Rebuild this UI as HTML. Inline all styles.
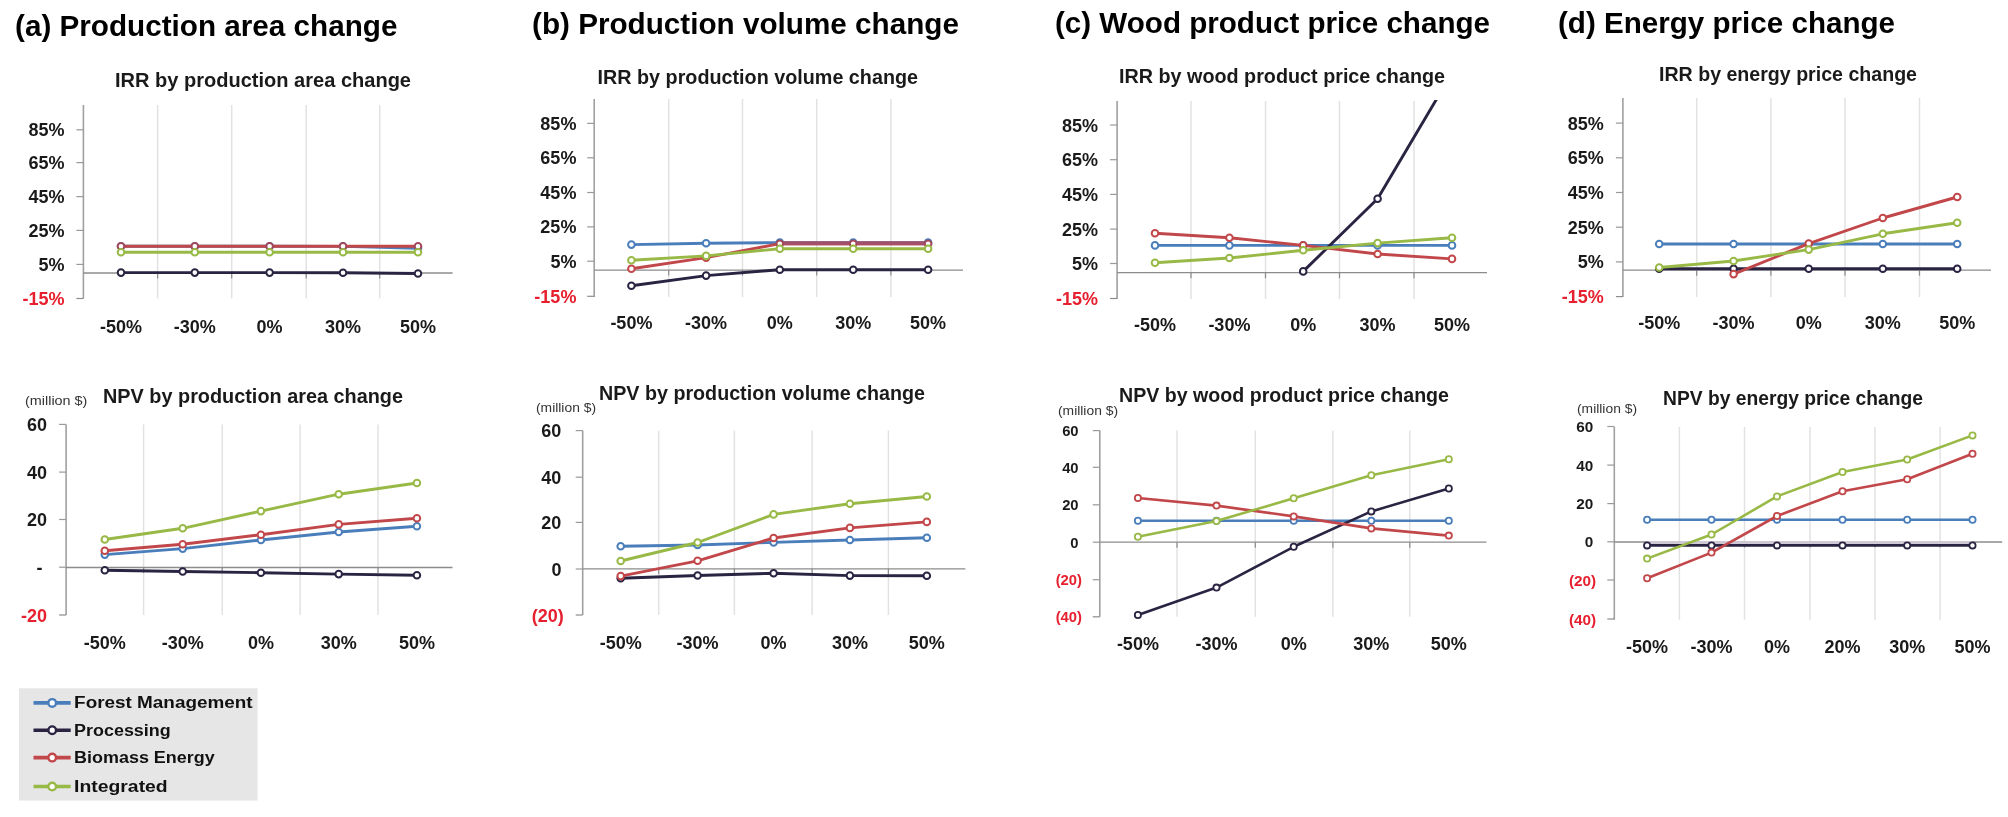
<!DOCTYPE html>
<html lang="en"><head><meta charset="utf-8"><title>Sensitivity analysis: IRR and NPV</title>
<style>html,body{margin:0;padding:0;background:#fff}body{width:2008px;height:817px;overflow:hidden}svg{display:block;filter:blur(0.45px)}</style></head>
<body>
<svg width="2008" height="817" viewBox="0 0 2008 817" font-family='"Liberation Sans", sans-serif'>
<defs><clipPath id="clipc"><rect x="1100" y="100" width="400" height="200"/></clipPath></defs>
<rect width="2008" height="817" fill="#fff"/>
<text x="15" y="36" font-size="29.2" font-weight="bold" fill="#000" textLength="382.5" lengthAdjust="spacingAndGlyphs">(a) Production area change</text>
<text x="532" y="34" font-size="29.2" font-weight="bold" fill="#000" textLength="427" lengthAdjust="spacingAndGlyphs">(b) Production volume change</text>
<text x="1055" y="33" font-size="29.2" font-weight="bold" fill="#000" textLength="435" lengthAdjust="spacingAndGlyphs">(c) Wood product price change</text>
<text x="1558" y="33" font-size="29.2" font-weight="bold" fill="#000" textLength="337" lengthAdjust="spacingAndGlyphs">(d) Energy price change</text>
<line x1="157.6" y1="105" x2="157.6" y2="298.5" stroke="#e2e2e2" stroke-width="1.5"/>
<line x1="157.6" y1="273" x2="157.6" y2="278.5" stroke="#8c8c8c" stroke-width="1.2"/>
<line x1="231.7" y1="105" x2="231.7" y2="298.5" stroke="#e2e2e2" stroke-width="1.5"/>
<line x1="231.7" y1="273" x2="231.7" y2="278.5" stroke="#8c8c8c" stroke-width="1.2"/>
<line x1="306.2" y1="105" x2="306.2" y2="298.5" stroke="#e2e2e2" stroke-width="1.5"/>
<line x1="306.2" y1="273" x2="306.2" y2="278.5" stroke="#8c8c8c" stroke-width="1.2"/>
<line x1="379.7" y1="105" x2="379.7" y2="298.5" stroke="#e2e2e2" stroke-width="1.5"/>
<line x1="379.7" y1="273" x2="379.7" y2="278.5" stroke="#8c8c8c" stroke-width="1.2"/>
<line x1="83.4" y1="105" x2="83.4" y2="298.5" stroke="#a0a0a0" stroke-width="1.6"/>
<line x1="76.4" y1="129.8" x2="83.4" y2="129.8" stroke="#999" stroke-width="1.2"/>
<text x="64.6" y="136.3" font-size="18" font-weight="bold" text-anchor="end" fill="#1a1a1a">85%</text>
<line x1="76.4" y1="162.6" x2="83.4" y2="162.6" stroke="#999" stroke-width="1.2"/>
<text x="64.6" y="169.1" font-size="18" font-weight="bold" text-anchor="end" fill="#1a1a1a">65%</text>
<line x1="76.4" y1="196.6" x2="83.4" y2="196.6" stroke="#999" stroke-width="1.2"/>
<text x="64.6" y="203.1" font-size="18" font-weight="bold" text-anchor="end" fill="#1a1a1a">45%</text>
<line x1="76.4" y1="230.4" x2="83.4" y2="230.4" stroke="#999" stroke-width="1.2"/>
<text x="64.6" y="236.9" font-size="18" font-weight="bold" text-anchor="end" fill="#1a1a1a">25%</text>
<line x1="76.4" y1="264.4" x2="83.4" y2="264.4" stroke="#999" stroke-width="1.2"/>
<text x="64.6" y="270.9" font-size="18" font-weight="bold" text-anchor="end" fill="#1a1a1a">5%</text>
<line x1="76.4" y1="298.5" x2="83.4" y2="298.5" stroke="#8c8c8c" stroke-width="1.2"/>
<text x="64.6" y="305" font-size="18" font-weight="bold" text-anchor="end" fill="#e6202e">-15%</text>
<line x1="83.4" y1="273" x2="452.6" y2="273" stroke="#8c8c8c" stroke-width="1.3"/>
<g><polyline points="121,246.2 194.8,246.2 269.6,246.2 343,246.4 418,248.2" fill="none" stroke="#4a7ebb" stroke-width="2.9" stroke-linejoin="round" stroke-linecap="round"/>
<circle cx="121" cy="246.2" r="3.3" fill="#fff" stroke="#4a7ebb" stroke-width="2"/>
<circle cx="194.8" cy="246.2" r="3.3" fill="#fff" stroke="#4a7ebb" stroke-width="2"/>
<circle cx="269.6" cy="246.2" r="3.3" fill="#fff" stroke="#4a7ebb" stroke-width="2"/>
<circle cx="343" cy="246.4" r="3.3" fill="#fff" stroke="#4a7ebb" stroke-width="2"/>
<circle cx="418" cy="248.2" r="3.3" fill="#fff" stroke="#4a7ebb" stroke-width="2"/>
</g>
<g><polyline points="121,272.6 194.8,272.6 269.6,272.6 343,272.7 418,273.5" fill="none" stroke="#2a2342" stroke-width="2.9" stroke-linejoin="round" stroke-linecap="round"/>
<circle cx="121" cy="272.6" r="3.3" fill="#fff" stroke="#2a2342" stroke-width="2"/>
<circle cx="194.8" cy="272.6" r="3.3" fill="#fff" stroke="#2a2342" stroke-width="2"/>
<circle cx="269.6" cy="272.6" r="3.3" fill="#fff" stroke="#2a2342" stroke-width="2"/>
<circle cx="343" cy="272.7" r="3.3" fill="#fff" stroke="#2a2342" stroke-width="2"/>
<circle cx="418" cy="273.5" r="3.3" fill="#fff" stroke="#2a2342" stroke-width="2"/>
</g>
<g><polyline points="121,246.3 194.8,246.3 269.6,246.3 343,246.3 418,246.3" fill="none" stroke="#c2474a" stroke-width="2.9" stroke-linejoin="round" stroke-linecap="round"/>
<circle cx="121" cy="246.3" r="3.3" fill="#fff" stroke="#a2485c" stroke-width="2"/>
<circle cx="194.8" cy="246.3" r="3.3" fill="#fff" stroke="#a2485c" stroke-width="2"/>
<circle cx="269.6" cy="246.3" r="3.3" fill="#fff" stroke="#a2485c" stroke-width="2"/>
<circle cx="343" cy="246.3" r="3.3" fill="#fff" stroke="#a2485c" stroke-width="2"/>
<circle cx="418" cy="246.3" r="3.3" fill="#fff" stroke="#a2485c" stroke-width="2"/>
</g>
<g><polyline points="121,252.2 194.8,252.2 269.6,252.2 343,252.2 418,252.2" fill="none" stroke="#98b946" stroke-width="2.9" stroke-linejoin="round" stroke-linecap="round"/>
<circle cx="121" cy="252.2" r="3.3" fill="#fff" stroke="#98b946" stroke-width="2"/>
<circle cx="194.8" cy="252.2" r="3.3" fill="#fff" stroke="#98b946" stroke-width="2"/>
<circle cx="269.6" cy="252.2" r="3.3" fill="#fff" stroke="#98b946" stroke-width="2"/>
<circle cx="343" cy="252.2" r="3.3" fill="#fff" stroke="#98b946" stroke-width="2"/>
<circle cx="418" cy="252.2" r="3.3" fill="#fff" stroke="#98b946" stroke-width="2"/>
</g>
<text x="121" y="332.5" font-size="18" font-weight="bold" text-anchor="middle" fill="#1a1a1a">-50%</text>
<text x="194.8" y="332.5" font-size="18" font-weight="bold" text-anchor="middle" fill="#1a1a1a">-30%</text>
<text x="269.6" y="332.5" font-size="18" font-weight="bold" text-anchor="middle" fill="#1a1a1a">0%</text>
<text x="343" y="332.5" font-size="18" font-weight="bold" text-anchor="middle" fill="#1a1a1a">30%</text>
<text x="418" y="332.5" font-size="18" font-weight="bold" text-anchor="middle" fill="#1a1a1a">50%</text>
<text x="263" y="87" font-size="19.5" font-weight="bold" text-anchor="middle" fill="#1a1a1a" textLength="296" lengthAdjust="spacingAndGlyphs">IRR by production area change</text>
<line x1="668.7" y1="99" x2="668.7" y2="297" stroke="#e2e2e2" stroke-width="1.5"/>
<line x1="668.7" y1="270.1" x2="668.7" y2="275.6" stroke="#8c8c8c" stroke-width="1.2"/>
<line x1="742.5" y1="99" x2="742.5" y2="297" stroke="#e2e2e2" stroke-width="1.5"/>
<line x1="742.5" y1="270.1" x2="742.5" y2="275.6" stroke="#8c8c8c" stroke-width="1.2"/>
<line x1="816.7" y1="99" x2="816.7" y2="297" stroke="#e2e2e2" stroke-width="1.5"/>
<line x1="816.7" y1="270.1" x2="816.7" y2="275.6" stroke="#8c8c8c" stroke-width="1.2"/>
<line x1="890.9" y1="99" x2="890.9" y2="297" stroke="#e2e2e2" stroke-width="1.5"/>
<line x1="890.9" y1="270.1" x2="890.9" y2="275.6" stroke="#8c8c8c" stroke-width="1.2"/>
<line x1="594.2" y1="99" x2="594.2" y2="297" stroke="#a0a0a0" stroke-width="1.6"/>
<line x1="587.2" y1="123.4" x2="594.2" y2="123.4" stroke="#999" stroke-width="1.2"/>
<text x="576.4" y="129.9" font-size="18" font-weight="bold" text-anchor="end" fill="#1a1a1a">85%</text>
<line x1="587.2" y1="157.8" x2="594.2" y2="157.8" stroke="#999" stroke-width="1.2"/>
<text x="576.4" y="164.3" font-size="18" font-weight="bold" text-anchor="end" fill="#1a1a1a">65%</text>
<line x1="587.2" y1="192.5" x2="594.2" y2="192.5" stroke="#999" stroke-width="1.2"/>
<text x="576.4" y="199" font-size="18" font-weight="bold" text-anchor="end" fill="#1a1a1a">45%</text>
<line x1="587.2" y1="226.9" x2="594.2" y2="226.9" stroke="#999" stroke-width="1.2"/>
<text x="576.4" y="233.4" font-size="18" font-weight="bold" text-anchor="end" fill="#1a1a1a">25%</text>
<line x1="587.2" y1="261.2" x2="594.2" y2="261.2" stroke="#999" stroke-width="1.2"/>
<text x="576.4" y="267.7" font-size="18" font-weight="bold" text-anchor="end" fill="#1a1a1a">5%</text>
<line x1="587.2" y1="296.3" x2="594.2" y2="296.3" stroke="#8c8c8c" stroke-width="1.2"/>
<text x="576.4" y="302.8" font-size="18" font-weight="bold" text-anchor="end" fill="#e6202e">-15%</text>
<line x1="594.2" y1="270.1" x2="963" y2="270.1" stroke="#8c8c8c" stroke-width="1.3"/>
<g><polyline points="631.4,244.6 706.1,243.3 779.8,242.6 853.2,242.6 928.1,242.6" fill="none" stroke="#4a7ebb" stroke-width="2.9" stroke-linejoin="round" stroke-linecap="round"/>
<circle cx="631.4" cy="244.6" r="3.3" fill="#fff" stroke="#4a7ebb" stroke-width="2"/>
<circle cx="706.1" cy="243.3" r="3.3" fill="#fff" stroke="#4a7ebb" stroke-width="2"/>
<circle cx="779.8" cy="242.6" r="3.3" fill="#fff" stroke="#4a7ebb" stroke-width="2"/>
<circle cx="853.2" cy="242.6" r="3.3" fill="#fff" stroke="#4a7ebb" stroke-width="2"/>
<circle cx="928.1" cy="242.6" r="3.3" fill="#fff" stroke="#4a7ebb" stroke-width="2"/>
</g>
<g><polyline points="631.4,285.8 706.1,275.6 779.8,269.7 853.2,269.7 928.1,269.7" fill="none" stroke="#2a2342" stroke-width="2.9" stroke-linejoin="round" stroke-linecap="round"/>
<circle cx="631.4" cy="285.8" r="3.3" fill="#fff" stroke="#2a2342" stroke-width="2"/>
<circle cx="706.1" cy="275.6" r="3.3" fill="#fff" stroke="#2a2342" stroke-width="2"/>
<circle cx="779.8" cy="269.7" r="3.3" fill="#fff" stroke="#2a2342" stroke-width="2"/>
<circle cx="853.2" cy="269.7" r="3.3" fill="#fff" stroke="#2a2342" stroke-width="2"/>
<circle cx="928.1" cy="269.7" r="3.3" fill="#fff" stroke="#2a2342" stroke-width="2"/>
</g>
<g><polyline points="631.4,268.8 706.1,257.6 779.8,243.7 853.2,243.7 928.1,243.7" fill="none" stroke="#c2474a" stroke-width="2.9" stroke-linejoin="round" stroke-linecap="round"/>
<line x1="781" y1="243.2" x2="928.1" y2="243.2" stroke="#a5506a" stroke-width="4"/>
<circle cx="631.4" cy="268.8" r="3.3" fill="#fff" stroke="#c2474a" stroke-width="2"/>
<circle cx="706.1" cy="257.6" r="3.3" fill="#fff" stroke="#c2474a" stroke-width="2"/>
<circle cx="779.8" cy="243.7" r="3.3" fill="#fff" stroke="#a2485c" stroke-width="2"/>
<circle cx="853.2" cy="243.7" r="3.3" fill="#fff" stroke="#a2485c" stroke-width="2"/>
<circle cx="928.1" cy="243.7" r="3.3" fill="#fff" stroke="#a2485c" stroke-width="2"/>
</g>
<g><polyline points="631.4,260.3 706.1,255.9 779.8,248.7 853.2,248.7 928.1,248.7" fill="none" stroke="#98b946" stroke-width="2.9" stroke-linejoin="round" stroke-linecap="round"/>
<circle cx="631.4" cy="260.3" r="3.3" fill="#fff" stroke="#98b946" stroke-width="2"/>
<circle cx="706.1" cy="255.9" r="3.3" fill="#fff" stroke="#98b946" stroke-width="2"/>
<circle cx="779.8" cy="248.7" r="3.3" fill="#fff" stroke="#98b946" stroke-width="2"/>
<circle cx="853.2" cy="248.7" r="3.3" fill="#fff" stroke="#98b946" stroke-width="2"/>
<circle cx="928.1" cy="248.7" r="3.3" fill="#fff" stroke="#98b946" stroke-width="2"/>
</g>
<text x="631.4" y="329.4" font-size="18" font-weight="bold" text-anchor="middle" fill="#1a1a1a">-50%</text>
<text x="706.1" y="329.4" font-size="18" font-weight="bold" text-anchor="middle" fill="#1a1a1a">-30%</text>
<text x="779.8" y="329.4" font-size="18" font-weight="bold" text-anchor="middle" fill="#1a1a1a">0%</text>
<text x="853.2" y="329.4" font-size="18" font-weight="bold" text-anchor="middle" fill="#1a1a1a">30%</text>
<text x="928.1" y="329.4" font-size="18" font-weight="bold" text-anchor="middle" fill="#1a1a1a">50%</text>
<text x="757.8" y="84" font-size="19.5" font-weight="bold" text-anchor="middle" fill="#1a1a1a" textLength="320.5" lengthAdjust="spacingAndGlyphs">IRR by production volume change</text>
<line x1="1191" y1="101" x2="1191" y2="299" stroke="#e2e2e2" stroke-width="1.5"/>
<line x1="1191" y1="272.7" x2="1191" y2="278.2" stroke="#8c8c8c" stroke-width="1.2"/>
<line x1="1265.5" y1="101" x2="1265.5" y2="299" stroke="#e2e2e2" stroke-width="1.5"/>
<line x1="1265.5" y1="272.7" x2="1265.5" y2="278.2" stroke="#8c8c8c" stroke-width="1.2"/>
<line x1="1339.5" y1="101" x2="1339.5" y2="299" stroke="#e2e2e2" stroke-width="1.5"/>
<line x1="1339.5" y1="272.7" x2="1339.5" y2="278.2" stroke="#8c8c8c" stroke-width="1.2"/>
<line x1="1414" y1="101" x2="1414" y2="299" stroke="#e2e2e2" stroke-width="1.5"/>
<line x1="1414" y1="272.7" x2="1414" y2="278.2" stroke="#8c8c8c" stroke-width="1.2"/>
<line x1="1117.1" y1="101" x2="1117.1" y2="299" stroke="#a0a0a0" stroke-width="1.6"/>
<line x1="1110.1" y1="125" x2="1117.1" y2="125" stroke="#999" stroke-width="1.2"/>
<text x="1098" y="131.5" font-size="18" font-weight="bold" text-anchor="end" fill="#1a1a1a">85%</text>
<line x1="1110.1" y1="159.7" x2="1117.1" y2="159.7" stroke="#999" stroke-width="1.2"/>
<text x="1098" y="166.2" font-size="18" font-weight="bold" text-anchor="end" fill="#1a1a1a">65%</text>
<line x1="1110.1" y1="194.4" x2="1117.1" y2="194.4" stroke="#999" stroke-width="1.2"/>
<text x="1098" y="200.9" font-size="18" font-weight="bold" text-anchor="end" fill="#1a1a1a">45%</text>
<line x1="1110.1" y1="229.1" x2="1117.1" y2="229.1" stroke="#999" stroke-width="1.2"/>
<text x="1098" y="235.6" font-size="18" font-weight="bold" text-anchor="end" fill="#1a1a1a">25%</text>
<line x1="1110.1" y1="263.5" x2="1117.1" y2="263.5" stroke="#999" stroke-width="1.2"/>
<text x="1098" y="270" font-size="18" font-weight="bold" text-anchor="end" fill="#1a1a1a">5%</text>
<line x1="1110.1" y1="298.5" x2="1117.1" y2="298.5" stroke="#8c8c8c" stroke-width="1.2"/>
<text x="1098" y="305" font-size="18" font-weight="bold" text-anchor="end" fill="#e6202e">-15%</text>
<line x1="1117.1" y1="272.7" x2="1487" y2="272.7" stroke="#8c8c8c" stroke-width="1.3"/>
<g clip-path="url(#clipc)"><polyline points="1155,245.4 1229.4,245.4 1303.2,245.4 1377.6,245.4 1452,245.4" fill="none" stroke="#4a7ebb" stroke-width="2.9" stroke-linejoin="round" stroke-linecap="round"/>
<circle cx="1155" cy="245.4" r="3.3" fill="#fff" stroke="#4a7ebb" stroke-width="2"/>
<circle cx="1229.4" cy="245.4" r="3.3" fill="#fff" stroke="#4a7ebb" stroke-width="2"/>
<circle cx="1303.2" cy="245.4" r="3.3" fill="#fff" stroke="#4a7ebb" stroke-width="2"/>
<circle cx="1377.6" cy="245.4" r="3.3" fill="#fff" stroke="#4a7ebb" stroke-width="2"/>
<circle cx="1452" cy="245.4" r="3.3" fill="#fff" stroke="#4a7ebb" stroke-width="2"/>
</g>
<g clip-path="url(#clipc)"><polyline points="1303.2,271.4 1377.6,198.8 1452,73" fill="none" stroke="#2a2342" stroke-width="2.9" stroke-linejoin="round" stroke-linecap="round"/>
<circle cx="1303.2" cy="271.4" r="3.3" fill="#fff" stroke="#2a2342" stroke-width="2"/>
<circle cx="1377.6" cy="198.8" r="3.3" fill="#fff" stroke="#2a2342" stroke-width="2"/>
</g>
<g clip-path="url(#clipc)"><polyline points="1155,233.2 1229.4,237.7 1303.2,245.4 1377.6,254 1452,258.9" fill="none" stroke="#c2474a" stroke-width="2.9" stroke-linejoin="round" stroke-linecap="round"/>
<circle cx="1155" cy="233.2" r="3.3" fill="#fff" stroke="#c2474a" stroke-width="2"/>
<circle cx="1229.4" cy="237.7" r="3.3" fill="#fff" stroke="#c2474a" stroke-width="2"/>
<circle cx="1303.2" cy="245.4" r="3.3" fill="#fff" stroke="#c2474a" stroke-width="2"/>
<circle cx="1377.6" cy="254" r="3.3" fill="#fff" stroke="#c2474a" stroke-width="2"/>
<circle cx="1452" cy="258.9" r="3.3" fill="#fff" stroke="#c2474a" stroke-width="2"/>
</g>
<g clip-path="url(#clipc)"><polyline points="1155,262.8 1229.4,258 1303.2,250.3 1377.6,243.1 1452,237.7" fill="none" stroke="#98b946" stroke-width="2.9" stroke-linejoin="round" stroke-linecap="round"/>
<circle cx="1155" cy="262.8" r="3.3" fill="#fff" stroke="#98b946" stroke-width="2"/>
<circle cx="1229.4" cy="258" r="3.3" fill="#fff" stroke="#98b946" stroke-width="2"/>
<circle cx="1303.2" cy="250.3" r="3.3" fill="#fff" stroke="#98b946" stroke-width="2"/>
<circle cx="1377.6" cy="243.1" r="3.3" fill="#fff" stroke="#98b946" stroke-width="2"/>
<circle cx="1452" cy="237.7" r="3.3" fill="#fff" stroke="#98b946" stroke-width="2"/>
</g>
<text x="1155" y="331.3" font-size="18" font-weight="bold" text-anchor="middle" fill="#1a1a1a">-50%</text>
<text x="1229.4" y="331.3" font-size="18" font-weight="bold" text-anchor="middle" fill="#1a1a1a">-30%</text>
<text x="1303.2" y="331.3" font-size="18" font-weight="bold" text-anchor="middle" fill="#1a1a1a">0%</text>
<text x="1377.6" y="331.3" font-size="18" font-weight="bold" text-anchor="middle" fill="#1a1a1a">30%</text>
<text x="1452" y="331.3" font-size="18" font-weight="bold" text-anchor="middle" fill="#1a1a1a">50%</text>
<text x="1282" y="83" font-size="19.5" font-weight="bold" text-anchor="middle" fill="#1a1a1a" textLength="326" lengthAdjust="spacingAndGlyphs">IRR by wood product price change</text>
<line x1="1696.7" y1="98" x2="1696.7" y2="297" stroke="#e2e2e2" stroke-width="1.5"/>
<line x1="1696.7" y1="270.2" x2="1696.7" y2="275.7" stroke="#8c8c8c" stroke-width="1.2"/>
<line x1="1770.9" y1="98" x2="1770.9" y2="297" stroke="#e2e2e2" stroke-width="1.5"/>
<line x1="1770.9" y1="270.2" x2="1770.9" y2="275.7" stroke="#8c8c8c" stroke-width="1.2"/>
<line x1="1845" y1="98" x2="1845" y2="297" stroke="#e2e2e2" stroke-width="1.5"/>
<line x1="1845" y1="270.2" x2="1845" y2="275.7" stroke="#8c8c8c" stroke-width="1.2"/>
<line x1="1919.5" y1="98" x2="1919.5" y2="297" stroke="#e2e2e2" stroke-width="1.5"/>
<line x1="1919.5" y1="270.2" x2="1919.5" y2="275.7" stroke="#8c8c8c" stroke-width="1.2"/>
<line x1="1622.9" y1="98" x2="1622.9" y2="297" stroke="#a0a0a0" stroke-width="1.6"/>
<line x1="1615.9" y1="123.1" x2="1622.9" y2="123.1" stroke="#999" stroke-width="1.2"/>
<text x="1603.8" y="129.6" font-size="18" font-weight="bold" text-anchor="end" fill="#1a1a1a">85%</text>
<line x1="1615.9" y1="157.8" x2="1622.9" y2="157.8" stroke="#999" stroke-width="1.2"/>
<text x="1603.8" y="164.3" font-size="18" font-weight="bold" text-anchor="end" fill="#1a1a1a">65%</text>
<line x1="1615.9" y1="192.5" x2="1622.9" y2="192.5" stroke="#999" stroke-width="1.2"/>
<text x="1603.8" y="199" font-size="18" font-weight="bold" text-anchor="end" fill="#1a1a1a">45%</text>
<line x1="1615.9" y1="227.2" x2="1622.9" y2="227.2" stroke="#999" stroke-width="1.2"/>
<text x="1603.8" y="233.7" font-size="18" font-weight="bold" text-anchor="end" fill="#1a1a1a">25%</text>
<line x1="1615.9" y1="261.9" x2="1622.9" y2="261.9" stroke="#999" stroke-width="1.2"/>
<text x="1603.8" y="268.4" font-size="18" font-weight="bold" text-anchor="end" fill="#1a1a1a">5%</text>
<line x1="1615.9" y1="296.6" x2="1622.9" y2="296.6" stroke="#8c8c8c" stroke-width="1.2"/>
<text x="1603.8" y="303.1" font-size="18" font-weight="bold" text-anchor="end" fill="#e6202e">-15%</text>
<line x1="1622.9" y1="270.2" x2="1991" y2="270.2" stroke="#8c8c8c" stroke-width="1.3"/>
<g><polyline points="1659.2,244 1733.6,244 1808.7,244 1882.8,244 1957.2,244" fill="none" stroke="#4a7ebb" stroke-width="2.9" stroke-linejoin="round" stroke-linecap="round"/>
<circle cx="1659.2" cy="244" r="3.3" fill="#fff" stroke="#4a7ebb" stroke-width="2"/>
<circle cx="1733.6" cy="244" r="3.3" fill="#fff" stroke="#4a7ebb" stroke-width="2"/>
<circle cx="1808.7" cy="244" r="3.3" fill="#fff" stroke="#4a7ebb" stroke-width="2"/>
<circle cx="1882.8" cy="244" r="3.3" fill="#fff" stroke="#4a7ebb" stroke-width="2"/>
<circle cx="1957.2" cy="244" r="3.3" fill="#fff" stroke="#4a7ebb" stroke-width="2"/>
</g>
<g><polyline points="1659.2,268.7 1733.6,268.7 1808.7,268.7 1882.8,268.7 1957.2,268.7" fill="none" stroke="#2a2342" stroke-width="2.9" stroke-linejoin="round" stroke-linecap="round"/>
<circle cx="1659.2" cy="268.7" r="3.3" fill="#fff" stroke="#2a2342" stroke-width="2"/>
<circle cx="1733.6" cy="268.7" r="3.3" fill="#fff" stroke="#2a2342" stroke-width="2"/>
<circle cx="1808.7" cy="268.7" r="3.3" fill="#fff" stroke="#2a2342" stroke-width="2"/>
<circle cx="1882.8" cy="268.7" r="3.3" fill="#fff" stroke="#2a2342" stroke-width="2"/>
<circle cx="1957.2" cy="268.7" r="3.3" fill="#fff" stroke="#2a2342" stroke-width="2"/>
</g>
<g><polyline points="1733.6,274.1 1808.7,243.6 1882.8,218 1957.2,197" fill="none" stroke="#c2474a" stroke-width="2.9" stroke-linejoin="round" stroke-linecap="round"/>
<circle cx="1733.6" cy="274.1" r="3.3" fill="#fff" stroke="#c2474a" stroke-width="2"/>
<circle cx="1808.7" cy="243.6" r="3.3" fill="#fff" stroke="#c2474a" stroke-width="2"/>
<circle cx="1882.8" cy="218" r="3.3" fill="#fff" stroke="#c2474a" stroke-width="2"/>
<circle cx="1957.2" cy="197" r="3.3" fill="#fff" stroke="#c2474a" stroke-width="2"/>
</g>
<g><polyline points="1659.2,267.5 1733.6,261 1808.7,249.6 1882.8,233.8 1957.2,222.7" fill="none" stroke="#98b946" stroke-width="2.9" stroke-linejoin="round" stroke-linecap="round"/>
<circle cx="1659.2" cy="267.5" r="3.3" fill="#fff" stroke="#98b946" stroke-width="2"/>
<circle cx="1733.6" cy="261" r="3.3" fill="#fff" stroke="#98b946" stroke-width="2"/>
<circle cx="1808.7" cy="249.6" r="3.3" fill="#fff" stroke="#98b946" stroke-width="2"/>
<circle cx="1882.8" cy="233.8" r="3.3" fill="#fff" stroke="#98b946" stroke-width="2"/>
<circle cx="1957.2" cy="222.7" r="3.3" fill="#fff" stroke="#98b946" stroke-width="2"/>
</g>
<text x="1659.2" y="329.4" font-size="18" font-weight="bold" text-anchor="middle" fill="#1a1a1a">-50%</text>
<text x="1733.6" y="329.4" font-size="18" font-weight="bold" text-anchor="middle" fill="#1a1a1a">-30%</text>
<text x="1808.7" y="329.4" font-size="18" font-weight="bold" text-anchor="middle" fill="#1a1a1a">0%</text>
<text x="1882.8" y="329.4" font-size="18" font-weight="bold" text-anchor="middle" fill="#1a1a1a">30%</text>
<text x="1957.2" y="329.4" font-size="18" font-weight="bold" text-anchor="middle" fill="#1a1a1a">50%</text>
<text x="1788" y="81" font-size="19.5" font-weight="bold" text-anchor="middle" fill="#1a1a1a" textLength="258" lengthAdjust="spacingAndGlyphs">IRR by energy price change</text>
<line x1="143.6" y1="424.4" x2="143.6" y2="615" stroke="#e2e2e2" stroke-width="1.5"/>
<line x1="143.6" y1="567.5" x2="143.6" y2="573" stroke="#8c8c8c" stroke-width="1.2"/>
<line x1="222.2" y1="424.4" x2="222.2" y2="615" stroke="#e2e2e2" stroke-width="1.5"/>
<line x1="222.2" y1="567.5" x2="222.2" y2="573" stroke="#8c8c8c" stroke-width="1.2"/>
<line x1="300.1" y1="424.4" x2="300.1" y2="615" stroke="#e2e2e2" stroke-width="1.5"/>
<line x1="300.1" y1="567.5" x2="300.1" y2="573" stroke="#8c8c8c" stroke-width="1.2"/>
<line x1="378" y1="424.4" x2="378" y2="615" stroke="#e2e2e2" stroke-width="1.5"/>
<line x1="378" y1="567.5" x2="378" y2="573" stroke="#8c8c8c" stroke-width="1.2"/>
<line x1="66.1" y1="424.4" x2="66.1" y2="615" stroke="#a0a0a0" stroke-width="1.6"/>
<line x1="59.1" y1="424.4" x2="66.1" y2="424.4" stroke="#999" stroke-width="1.2"/>
<text x="47" y="430.9" font-size="18" font-weight="bold" text-anchor="end" fill="#1a1a1a">60</text>
<line x1="59.1" y1="472.1" x2="66.1" y2="472.1" stroke="#999" stroke-width="1.2"/>
<text x="47" y="478.6" font-size="18" font-weight="bold" text-anchor="end" fill="#1a1a1a">40</text>
<line x1="59.1" y1="519.5" x2="66.1" y2="519.5" stroke="#999" stroke-width="1.2"/>
<text x="47" y="526" font-size="18" font-weight="bold" text-anchor="end" fill="#1a1a1a">20</text>
<line x1="59.1" y1="567.2" x2="66.1" y2="567.2" stroke="#999" stroke-width="1.2"/>
<text x="42.5" y="573.7" font-size="18" font-weight="bold" text-anchor="end" fill="#1a1a1a">-</text>
<line x1="59.1" y1="615" x2="66.1" y2="615" stroke="#8c8c8c" stroke-width="1.2"/>
<text x="47" y="621.5" font-size="18" font-weight="bold" text-anchor="end" fill="#e6202e">-20</text>
<line x1="66.1" y1="567.5" x2="452.5" y2="567.5" stroke="#8c8c8c" stroke-width="1.3"/>
<g><polyline points="104.8,554.6 182.7,548.6 260.9,540 338.7,532 416.9,526.2" fill="none" stroke="#4a7ebb" stroke-width="2.9" stroke-linejoin="round" stroke-linecap="round"/>
<circle cx="104.8" cy="554.6" r="3.3" fill="#fff" stroke="#4a7ebb" stroke-width="2"/>
<circle cx="182.7" cy="548.6" r="3.3" fill="#fff" stroke="#4a7ebb" stroke-width="2"/>
<circle cx="260.9" cy="540" r="3.3" fill="#fff" stroke="#4a7ebb" stroke-width="2"/>
<circle cx="338.7" cy="532" r="3.3" fill="#fff" stroke="#4a7ebb" stroke-width="2"/>
<circle cx="416.9" cy="526.2" r="3.3" fill="#fff" stroke="#4a7ebb" stroke-width="2"/>
</g>
<g><polyline points="104.8,570.3 182.7,571.5 260.9,572.7 338.7,574.1 416.9,575.2" fill="none" stroke="#2a2342" stroke-width="2.9" stroke-linejoin="round" stroke-linecap="round"/>
<circle cx="104.8" cy="570.3" r="3.3" fill="#fff" stroke="#2a2342" stroke-width="2"/>
<circle cx="182.7" cy="571.5" r="3.3" fill="#fff" stroke="#2a2342" stroke-width="2"/>
<circle cx="260.9" cy="572.7" r="3.3" fill="#fff" stroke="#2a2342" stroke-width="2"/>
<circle cx="338.7" cy="574.1" r="3.3" fill="#fff" stroke="#2a2342" stroke-width="2"/>
<circle cx="416.9" cy="575.2" r="3.3" fill="#fff" stroke="#2a2342" stroke-width="2"/>
</g>
<g><polyline points="104.8,550.7 182.7,544.2 260.9,534.7 338.7,524.4 416.9,518.2" fill="none" stroke="#c2474a" stroke-width="2.9" stroke-linejoin="round" stroke-linecap="round"/>
<circle cx="104.8" cy="550.7" r="3.3" fill="#fff" stroke="#c2474a" stroke-width="2"/>
<circle cx="182.7" cy="544.2" r="3.3" fill="#fff" stroke="#c2474a" stroke-width="2"/>
<circle cx="260.9" cy="534.7" r="3.3" fill="#fff" stroke="#c2474a" stroke-width="2"/>
<circle cx="338.7" cy="524.4" r="3.3" fill="#fff" stroke="#c2474a" stroke-width="2"/>
<circle cx="416.9" cy="518.2" r="3.3" fill="#fff" stroke="#c2474a" stroke-width="2"/>
</g>
<g><polyline points="104.8,539.5 182.7,528.3 260.9,511.1 338.7,494.2 416.9,483" fill="none" stroke="#98b946" stroke-width="2.9" stroke-linejoin="round" stroke-linecap="round"/>
<circle cx="104.8" cy="539.5" r="3.3" fill="#fff" stroke="#98b946" stroke-width="2"/>
<circle cx="182.7" cy="528.3" r="3.3" fill="#fff" stroke="#98b946" stroke-width="2"/>
<circle cx="260.9" cy="511.1" r="3.3" fill="#fff" stroke="#98b946" stroke-width="2"/>
<circle cx="338.7" cy="494.2" r="3.3" fill="#fff" stroke="#98b946" stroke-width="2"/>
<circle cx="416.9" cy="483" r="3.3" fill="#fff" stroke="#98b946" stroke-width="2"/>
</g>
<text x="104.8" y="648.6" font-size="18" font-weight="bold" text-anchor="middle" fill="#1a1a1a">-50%</text>
<text x="182.7" y="648.6" font-size="18" font-weight="bold" text-anchor="middle" fill="#1a1a1a">-30%</text>
<text x="260.9" y="648.6" font-size="18" font-weight="bold" text-anchor="middle" fill="#1a1a1a">0%</text>
<text x="338.7" y="648.6" font-size="18" font-weight="bold" text-anchor="middle" fill="#1a1a1a">30%</text>
<text x="416.9" y="648.6" font-size="18" font-weight="bold" text-anchor="middle" fill="#1a1a1a">50%</text>
<text x="253" y="402.5" font-size="19.5" font-weight="bold" text-anchor="middle" fill="#1a1a1a" textLength="300" lengthAdjust="spacingAndGlyphs">NPV by production area change</text>
<text x="25" y="405" font-size="13.5" fill="#333" textLength="62.4" lengthAdjust="spacingAndGlyphs">(million $)</text>
<line x1="658.7" y1="430.6" x2="658.7" y2="615" stroke="#e2e2e2" stroke-width="1.5"/>
<line x1="658.7" y1="568.8" x2="658.7" y2="574.3" stroke="#8c8c8c" stroke-width="1.2"/>
<line x1="734.4" y1="430.6" x2="734.4" y2="615" stroke="#e2e2e2" stroke-width="1.5"/>
<line x1="734.4" y1="568.8" x2="734.4" y2="574.3" stroke="#8c8c8c" stroke-width="1.2"/>
<line x1="812.1" y1="430.6" x2="812.1" y2="615" stroke="#e2e2e2" stroke-width="1.5"/>
<line x1="812.1" y1="568.8" x2="812.1" y2="574.3" stroke="#8c8c8c" stroke-width="1.2"/>
<line x1="888.4" y1="430.6" x2="888.4" y2="615" stroke="#e2e2e2" stroke-width="1.5"/>
<line x1="888.4" y1="568.8" x2="888.4" y2="574.3" stroke="#8c8c8c" stroke-width="1.2"/>
<line x1="582.7" y1="430.6" x2="582.7" y2="615" stroke="#a0a0a0" stroke-width="1.6"/>
<line x1="575.7" y1="430.6" x2="582.7" y2="430.6" stroke="#999" stroke-width="1.2"/>
<text x="561.4" y="437.1" font-size="18" font-weight="bold" text-anchor="end" fill="#1a1a1a">60</text>
<line x1="575.7" y1="477.2" x2="582.7" y2="477.2" stroke="#999" stroke-width="1.2"/>
<text x="561.4" y="483.7" font-size="18" font-weight="bold" text-anchor="end" fill="#1a1a1a">40</text>
<line x1="575.7" y1="522.4" x2="582.7" y2="522.4" stroke="#999" stroke-width="1.2"/>
<text x="561.4" y="528.9" font-size="18" font-weight="bold" text-anchor="end" fill="#1a1a1a">20</text>
<line x1="575.7" y1="569" x2="582.7" y2="569" stroke="#999" stroke-width="1.2"/>
<text x="561.4" y="575.5" font-size="18" font-weight="bold" text-anchor="end" fill="#1a1a1a">0</text>
<line x1="575.7" y1="615" x2="582.7" y2="615" stroke="#8c8c8c" stroke-width="1.2"/>
<text x="563.8" y="621.5" font-size="18" font-weight="bold" text-anchor="end" fill="#e6202e">(20)</text>
<line x1="582.7" y1="568.8" x2="965.4" y2="568.8" stroke="#8c8c8c" stroke-width="1.3"/>
<g><polyline points="620.7,546.3 697.6,545 773.6,542.4 849.9,540 926.8,537.8" fill="none" stroke="#4a7ebb" stroke-width="2.9" stroke-linejoin="round" stroke-linecap="round"/>
<circle cx="620.7" cy="546.3" r="3.3" fill="#fff" stroke="#4a7ebb" stroke-width="2"/>
<circle cx="697.6" cy="545" r="3.3" fill="#fff" stroke="#4a7ebb" stroke-width="2"/>
<circle cx="773.6" cy="542.4" r="3.3" fill="#fff" stroke="#4a7ebb" stroke-width="2"/>
<circle cx="849.9" cy="540" r="3.3" fill="#fff" stroke="#4a7ebb" stroke-width="2"/>
<circle cx="926.8" cy="537.8" r="3.3" fill="#fff" stroke="#4a7ebb" stroke-width="2"/>
</g>
<g><polyline points="620.7,578.2 697.6,575.5 773.6,573.2 849.9,575.6 926.8,575.8" fill="none" stroke="#2a2342" stroke-width="2.9" stroke-linejoin="round" stroke-linecap="round"/>
<circle cx="620.7" cy="578.2" r="3.3" fill="#fff" stroke="#2a2342" stroke-width="2"/>
<circle cx="697.6" cy="575.5" r="3.3" fill="#fff" stroke="#2a2342" stroke-width="2"/>
<circle cx="773.6" cy="573.2" r="3.3" fill="#fff" stroke="#2a2342" stroke-width="2"/>
<circle cx="849.9" cy="575.6" r="3.3" fill="#fff" stroke="#2a2342" stroke-width="2"/>
<circle cx="926.8" cy="575.8" r="3.3" fill="#fff" stroke="#2a2342" stroke-width="2"/>
</g>
<g><polyline points="620.7,576.1 697.6,560.8 773.6,538 849.9,527.9 926.8,521.9" fill="none" stroke="#c2474a" stroke-width="2.9" stroke-linejoin="round" stroke-linecap="round"/>
<circle cx="620.7" cy="576.1" r="3.3" fill="#fff" stroke="#c2474a" stroke-width="2"/>
<circle cx="697.6" cy="560.8" r="3.3" fill="#fff" stroke="#c2474a" stroke-width="2"/>
<circle cx="773.6" cy="538" r="3.3" fill="#fff" stroke="#c2474a" stroke-width="2"/>
<circle cx="849.9" cy="527.9" r="3.3" fill="#fff" stroke="#c2474a" stroke-width="2"/>
<circle cx="926.8" cy="521.9" r="3.3" fill="#fff" stroke="#c2474a" stroke-width="2"/>
</g>
<g><polyline points="620.7,561 697.6,542.5 773.6,514.4 849.9,503.7 926.8,496.5" fill="none" stroke="#98b946" stroke-width="2.9" stroke-linejoin="round" stroke-linecap="round"/>
<circle cx="620.7" cy="561" r="3.3" fill="#fff" stroke="#98b946" stroke-width="2"/>
<circle cx="697.6" cy="542.5" r="3.3" fill="#fff" stroke="#98b946" stroke-width="2"/>
<circle cx="773.6" cy="514.4" r="3.3" fill="#fff" stroke="#98b946" stroke-width="2"/>
<circle cx="849.9" cy="503.7" r="3.3" fill="#fff" stroke="#98b946" stroke-width="2"/>
<circle cx="926.8" cy="496.5" r="3.3" fill="#fff" stroke="#98b946" stroke-width="2"/>
</g>
<text x="620.7" y="648.5" font-size="18" font-weight="bold" text-anchor="middle" fill="#1a1a1a">-50%</text>
<text x="697.6" y="648.5" font-size="18" font-weight="bold" text-anchor="middle" fill="#1a1a1a">-30%</text>
<text x="773.6" y="648.5" font-size="18" font-weight="bold" text-anchor="middle" fill="#1a1a1a">0%</text>
<text x="849.9" y="648.5" font-size="18" font-weight="bold" text-anchor="middle" fill="#1a1a1a">30%</text>
<text x="926.8" y="648.5" font-size="18" font-weight="bold" text-anchor="middle" fill="#1a1a1a">50%</text>
<text x="762" y="400" font-size="19.5" font-weight="bold" text-anchor="middle" fill="#1a1a1a" textLength="326" lengthAdjust="spacingAndGlyphs">NPV by production volume change</text>
<text x="536" y="412" font-size="13.5" fill="#333" textLength="60" lengthAdjust="spacingAndGlyphs">(million $)</text>
<line x1="1177" y1="430.6" x2="1177" y2="616.8" stroke="#e2e2e2" stroke-width="1.5"/>
<line x1="1177" y1="542.2" x2="1177" y2="547.7" stroke="#8c8c8c" stroke-width="1.2"/>
<line x1="1255.3" y1="430.6" x2="1255.3" y2="616.8" stroke="#e2e2e2" stroke-width="1.5"/>
<line x1="1255.3" y1="542.2" x2="1255.3" y2="547.7" stroke="#8c8c8c" stroke-width="1.2"/>
<line x1="1332.9" y1="430.6" x2="1332.9" y2="616.8" stroke="#e2e2e2" stroke-width="1.5"/>
<line x1="1332.9" y1="542.2" x2="1332.9" y2="547.7" stroke="#8c8c8c" stroke-width="1.2"/>
<line x1="1409.8" y1="430.6" x2="1409.8" y2="616.8" stroke="#e2e2e2" stroke-width="1.5"/>
<line x1="1409.8" y1="542.2" x2="1409.8" y2="547.7" stroke="#8c8c8c" stroke-width="1.2"/>
<line x1="1099.8" y1="430.6" x2="1099.8" y2="616.8" stroke="#a0a0a0" stroke-width="1.6"/>
<line x1="1092.8" y1="430.6" x2="1099.8" y2="430.6" stroke="#999" stroke-width="1.2"/>
<text x="1078.6" y="435.9" font-size="14.8" font-weight="bold" text-anchor="end" fill="#1a1a1a">60</text>
<line x1="1092.8" y1="467.3" x2="1099.8" y2="467.3" stroke="#999" stroke-width="1.2"/>
<text x="1078.6" y="472.6" font-size="14.8" font-weight="bold" text-anchor="end" fill="#1a1a1a">40</text>
<line x1="1092.8" y1="504.8" x2="1099.8" y2="504.8" stroke="#999" stroke-width="1.2"/>
<text x="1078.6" y="510.1" font-size="14.8" font-weight="bold" text-anchor="end" fill="#1a1a1a">20</text>
<line x1="1092.8" y1="542.2" x2="1099.8" y2="542.2" stroke="#999" stroke-width="1.2"/>
<text x="1078.6" y="547.5" font-size="14.8" font-weight="bold" text-anchor="end" fill="#1a1a1a">0</text>
<line x1="1092.8" y1="579.7" x2="1099.8" y2="579.7" stroke="#999" stroke-width="1.2"/>
<text x="1082" y="585" font-size="14.8" font-weight="bold" text-anchor="end" fill="#e6202e">(20)</text>
<line x1="1092.8" y1="616.8" x2="1099.8" y2="616.8" stroke="#8c8c8c" stroke-width="1.2"/>
<text x="1082" y="622.1" font-size="14.8" font-weight="bold" text-anchor="end" fill="#e6202e">(40)</text>
<line x1="1099.8" y1="542.2" x2="1486.5" y2="542.2" stroke="#8c8c8c" stroke-width="1.3"/>
<g><polyline points="1137.9,520.8 1216.5,520.8 1293.7,520.8 1371.3,520.8 1448.8,520.8" fill="none" stroke="#4a7ebb" stroke-width="2.6" stroke-linejoin="round" stroke-linecap="round"/>
<circle cx="1137.9" cy="520.8" r="3.1" fill="#fff" stroke="#4a7ebb" stroke-width="1.8"/>
<circle cx="1216.5" cy="520.8" r="3.1" fill="#fff" stroke="#4a7ebb" stroke-width="1.8"/>
<circle cx="1293.7" cy="520.8" r="3.1" fill="#fff" stroke="#4a7ebb" stroke-width="1.8"/>
<circle cx="1371.3" cy="520.8" r="3.1" fill="#fff" stroke="#4a7ebb" stroke-width="1.8"/>
<circle cx="1448.8" cy="520.8" r="3.1" fill="#fff" stroke="#4a7ebb" stroke-width="1.8"/>
</g>
<g><polyline points="1137.9,615 1216.5,587.6 1293.7,546.8 1371.3,511.4 1448.8,488.5" fill="none" stroke="#2a2342" stroke-width="2.6" stroke-linejoin="round" stroke-linecap="round"/>
<circle cx="1137.9" cy="615" r="3.1" fill="#fff" stroke="#2a2342" stroke-width="1.8"/>
<circle cx="1216.5" cy="587.6" r="3.1" fill="#fff" stroke="#2a2342" stroke-width="1.8"/>
<circle cx="1293.7" cy="546.8" r="3.1" fill="#fff" stroke="#2a2342" stroke-width="1.8"/>
<circle cx="1371.3" cy="511.4" r="3.1" fill="#fff" stroke="#2a2342" stroke-width="1.8"/>
<circle cx="1448.8" cy="488.5" r="3.1" fill="#fff" stroke="#2a2342" stroke-width="1.8"/>
</g>
<g><polyline points="1137.9,498 1216.5,505.6 1293.7,516.4 1371.3,528.4 1448.8,535.6" fill="none" stroke="#c2474a" stroke-width="2.6" stroke-linejoin="round" stroke-linecap="round"/>
<circle cx="1137.9" cy="498" r="3.1" fill="#fff" stroke="#c2474a" stroke-width="1.8"/>
<circle cx="1216.5" cy="505.6" r="3.1" fill="#fff" stroke="#c2474a" stroke-width="1.8"/>
<circle cx="1293.7" cy="516.4" r="3.1" fill="#fff" stroke="#c2474a" stroke-width="1.8"/>
<circle cx="1371.3" cy="528.4" r="3.1" fill="#fff" stroke="#c2474a" stroke-width="1.8"/>
<circle cx="1448.8" cy="535.6" r="3.1" fill="#fff" stroke="#c2474a" stroke-width="1.8"/>
</g>
<g><polyline points="1137.9,536.8 1216.5,521.1 1293.7,498.2 1371.3,475.2 1448.8,459.3" fill="none" stroke="#98b946" stroke-width="2.6" stroke-linejoin="round" stroke-linecap="round"/>
<circle cx="1137.9" cy="536.8" r="3.1" fill="#fff" stroke="#98b946" stroke-width="1.8"/>
<circle cx="1216.5" cy="521.1" r="3.1" fill="#fff" stroke="#98b946" stroke-width="1.8"/>
<circle cx="1293.7" cy="498.2" r="3.1" fill="#fff" stroke="#98b946" stroke-width="1.8"/>
<circle cx="1371.3" cy="475.2" r="3.1" fill="#fff" stroke="#98b946" stroke-width="1.8"/>
<circle cx="1448.8" cy="459.3" r="3.1" fill="#fff" stroke="#98b946" stroke-width="1.8"/>
</g>
<text x="1137.9" y="649.6" font-size="18" font-weight="bold" text-anchor="middle" fill="#1a1a1a">-50%</text>
<text x="1216.5" y="649.6" font-size="18" font-weight="bold" text-anchor="middle" fill="#1a1a1a">-30%</text>
<text x="1293.7" y="649.6" font-size="18" font-weight="bold" text-anchor="middle" fill="#1a1a1a">0%</text>
<text x="1371.3" y="649.6" font-size="18" font-weight="bold" text-anchor="middle" fill="#1a1a1a">30%</text>
<text x="1448.8" y="649.6" font-size="18" font-weight="bold" text-anchor="middle" fill="#1a1a1a">50%</text>
<text x="1284" y="402" font-size="19.5" font-weight="bold" text-anchor="middle" fill="#1a1a1a" textLength="330" lengthAdjust="spacingAndGlyphs">NPV by wood product price change</text>
<text x="1058" y="415" font-size="13.5" fill="#333" textLength="60" lengthAdjust="spacingAndGlyphs">(million $)</text>
<line x1="1679.4" y1="426.9" x2="1679.4" y2="619.7" stroke="#e2e2e2" stroke-width="1.5"/>
<line x1="1679.4" y1="542" x2="1679.4" y2="547.5" stroke="#8c8c8c" stroke-width="1.2"/>
<line x1="1744.5" y1="426.9" x2="1744.5" y2="619.7" stroke="#e2e2e2" stroke-width="1.5"/>
<line x1="1744.5" y1="542" x2="1744.5" y2="547.5" stroke="#8c8c8c" stroke-width="1.2"/>
<line x1="1810" y1="426.9" x2="1810" y2="619.7" stroke="#e2e2e2" stroke-width="1.5"/>
<line x1="1810" y1="542" x2="1810" y2="547.5" stroke="#8c8c8c" stroke-width="1.2"/>
<line x1="1875" y1="426.9" x2="1875" y2="619.7" stroke="#e2e2e2" stroke-width="1.5"/>
<line x1="1875" y1="542" x2="1875" y2="547.5" stroke="#8c8c8c" stroke-width="1.2"/>
<line x1="1940.1" y1="426.9" x2="1940.1" y2="619.7" stroke="#e2e2e2" stroke-width="1.5"/>
<line x1="1940.1" y1="542" x2="1940.1" y2="547.5" stroke="#8c8c8c" stroke-width="1.2"/>
<line x1="1614.3" y1="426.9" x2="1614.3" y2="619.7" stroke="#a0a0a0" stroke-width="1.6"/>
<line x1="1607.3" y1="426.5" x2="1614.3" y2="426.5" stroke="#999" stroke-width="1.2"/>
<text x="1593.2" y="432" font-size="15.3" font-weight="bold" text-anchor="end" fill="#1a1a1a">60</text>
<line x1="1607.3" y1="465.1" x2="1614.3" y2="465.1" stroke="#999" stroke-width="1.2"/>
<text x="1593.2" y="470.6" font-size="15.3" font-weight="bold" text-anchor="end" fill="#1a1a1a">40</text>
<line x1="1607.3" y1="503.6" x2="1614.3" y2="503.6" stroke="#999" stroke-width="1.2"/>
<text x="1593.2" y="509.1" font-size="15.3" font-weight="bold" text-anchor="end" fill="#1a1a1a">20</text>
<line x1="1607.3" y1="541.8" x2="1614.3" y2="541.8" stroke="#999" stroke-width="1.2"/>
<text x="1593.2" y="547.3" font-size="15.3" font-weight="bold" text-anchor="end" fill="#1a1a1a">0</text>
<line x1="1607.3" y1="580" x2="1614.3" y2="580" stroke="#999" stroke-width="1.2"/>
<text x="1596.2" y="585.5" font-size="15.3" font-weight="bold" text-anchor="end" fill="#e6202e">(20)</text>
<line x1="1607.3" y1="619" x2="1614.3" y2="619" stroke="#8c8c8c" stroke-width="1.2"/>
<text x="1596.2" y="624.5" font-size="15.3" font-weight="bold" text-anchor="end" fill="#e6202e">(40)</text>
<line x1="1614.3" y1="542" x2="2002.2" y2="542" stroke="#8c8c8c" stroke-width="1.3"/>
<line x1="1647.1" y1="542.6" x2="1972.5" y2="542.6" stroke="#cfc9d6" stroke-width="3"/>
<g><polyline points="1647.1,519.7 1711.5,519.7 1777,519.7 1842.5,519.7 1907.2,519.7 1972.5,519.7" fill="none" stroke="#4a7ebb" stroke-width="2.6" stroke-linejoin="round" stroke-linecap="round"/>
<circle cx="1647.1" cy="519.7" r="3.1" fill="#fff" stroke="#4a7ebb" stroke-width="1.8"/>
<circle cx="1711.5" cy="519.7" r="3.1" fill="#fff" stroke="#4a7ebb" stroke-width="1.8"/>
<circle cx="1777" cy="519.7" r="3.1" fill="#fff" stroke="#4a7ebb" stroke-width="1.8"/>
<circle cx="1842.5" cy="519.7" r="3.1" fill="#fff" stroke="#4a7ebb" stroke-width="1.8"/>
<circle cx="1907.2" cy="519.7" r="3.1" fill="#fff" stroke="#4a7ebb" stroke-width="1.8"/>
<circle cx="1972.5" cy="519.7" r="3.1" fill="#fff" stroke="#4a7ebb" stroke-width="1.8"/>
</g>
<g><polyline points="1647.1,545.4 1711.5,545.4 1777,545.4 1842.5,545.4 1907.2,545.4 1972.5,545.4" fill="none" stroke="#2a2342" stroke-width="2.6" stroke-linejoin="round" stroke-linecap="round"/>
<circle cx="1647.1" cy="545.4" r="3.1" fill="#fff" stroke="#2a2342" stroke-width="1.8"/>
<circle cx="1711.5" cy="545.4" r="3.1" fill="#fff" stroke="#2a2342" stroke-width="1.8"/>
<circle cx="1777" cy="545.4" r="3.1" fill="#fff" stroke="#2a2342" stroke-width="1.8"/>
<circle cx="1842.5" cy="545.4" r="3.1" fill="#fff" stroke="#2a2342" stroke-width="1.8"/>
<circle cx="1907.2" cy="545.4" r="3.1" fill="#fff" stroke="#2a2342" stroke-width="1.8"/>
<circle cx="1972.5" cy="545.4" r="3.1" fill="#fff" stroke="#2a2342" stroke-width="1.8"/>
</g>
<g><polyline points="1647.1,578.3 1711.5,552.6 1777,516 1842.5,491.3 1907.2,479.3 1972.5,453.7" fill="none" stroke="#c2474a" stroke-width="2.6" stroke-linejoin="round" stroke-linecap="round"/>
<circle cx="1647.1" cy="578.3" r="3.1" fill="#fff" stroke="#c2474a" stroke-width="1.8"/>
<circle cx="1711.5" cy="552.6" r="3.1" fill="#fff" stroke="#c2474a" stroke-width="1.8"/>
<circle cx="1777" cy="516" r="3.1" fill="#fff" stroke="#c2474a" stroke-width="1.8"/>
<circle cx="1842.5" cy="491.3" r="3.1" fill="#fff" stroke="#c2474a" stroke-width="1.8"/>
<circle cx="1907.2" cy="479.3" r="3.1" fill="#fff" stroke="#c2474a" stroke-width="1.8"/>
<circle cx="1972.5" cy="453.7" r="3.1" fill="#fff" stroke="#c2474a" stroke-width="1.8"/>
</g>
<g><polyline points="1647.1,558.6 1711.5,534.5 1777,496.4 1842.5,472 1907.2,459.5 1972.5,435.4" fill="none" stroke="#98b946" stroke-width="2.6" stroke-linejoin="round" stroke-linecap="round"/>
<circle cx="1647.1" cy="558.6" r="3.1" fill="#fff" stroke="#98b946" stroke-width="1.8"/>
<circle cx="1711.5" cy="534.5" r="3.1" fill="#fff" stroke="#98b946" stroke-width="1.8"/>
<circle cx="1777" cy="496.4" r="3.1" fill="#fff" stroke="#98b946" stroke-width="1.8"/>
<circle cx="1842.5" cy="472" r="3.1" fill="#fff" stroke="#98b946" stroke-width="1.8"/>
<circle cx="1907.2" cy="459.5" r="3.1" fill="#fff" stroke="#98b946" stroke-width="1.8"/>
<circle cx="1972.5" cy="435.4" r="3.1" fill="#fff" stroke="#98b946" stroke-width="1.8"/>
</g>
<text x="1647.1" y="652.5" font-size="18" font-weight="bold" text-anchor="middle" fill="#1a1a1a">-50%</text>
<text x="1711.5" y="652.5" font-size="18" font-weight="bold" text-anchor="middle" fill="#1a1a1a">-30%</text>
<text x="1777" y="652.5" font-size="18" font-weight="bold" text-anchor="middle" fill="#1a1a1a">0%</text>
<text x="1842.5" y="652.5" font-size="18" font-weight="bold" text-anchor="middle" fill="#1a1a1a">20%</text>
<text x="1907.2" y="652.5" font-size="18" font-weight="bold" text-anchor="middle" fill="#1a1a1a">30%</text>
<text x="1972.5" y="652.5" font-size="18" font-weight="bold" text-anchor="middle" fill="#1a1a1a">50%</text>
<text x="1793" y="405" font-size="19.5" font-weight="bold" text-anchor="middle" fill="#1a1a1a" textLength="260" lengthAdjust="spacingAndGlyphs">NPV by energy price change</text>
<text x="1577" y="413" font-size="13.5" fill="#333" textLength="60" lengthAdjust="spacingAndGlyphs">(million $)</text>
<rect x="18.9" y="688.3" width="238.7" height="112.2" fill="#e6e6e6"/>
<line x1="33.5" y1="702.9" x2="70.7" y2="702.9" stroke="#4a7ebb" stroke-width="3.6"/>
<circle cx="52.2" cy="702.9" r="3.8" fill="#fff" stroke="#4a7ebb" stroke-width="2.4"/>
<text x="74.1" y="708.4" font-size="17.2" font-weight="bold" fill="#111" textLength="178.5" lengthAdjust="spacingAndGlyphs">Forest Management</text>
<line x1="33.5" y1="730.2" x2="70.7" y2="730.2" stroke="#2a2342" stroke-width="3.6"/>
<circle cx="52.2" cy="730.2" r="3.8" fill="#fff" stroke="#2a2342" stroke-width="2.4"/>
<text x="74.1" y="735.8" font-size="17.2" font-weight="bold" fill="#111" textLength="96.6" lengthAdjust="spacingAndGlyphs">Processing</text>
<line x1="33.5" y1="757.6" x2="70.7" y2="757.6" stroke="#c2474a" stroke-width="3.6"/>
<circle cx="52.2" cy="757.6" r="3.8" fill="#fff" stroke="#c2474a" stroke-width="2.4"/>
<text x="74.1" y="763.3" font-size="17.2" font-weight="bold" fill="#111" textLength="140.6" lengthAdjust="spacingAndGlyphs">Biomass Energy</text>
<line x1="33.5" y1="786.5" x2="70.7" y2="786.5" stroke="#98b946" stroke-width="3.6"/>
<circle cx="52.2" cy="786.5" r="3.8" fill="#fff" stroke="#98b946" stroke-width="2.4"/>
<text x="74.1" y="792" font-size="17.2" font-weight="bold" fill="#111" textLength="93.6" lengthAdjust="spacingAndGlyphs">Integrated</text>
</svg>
</body></html>
